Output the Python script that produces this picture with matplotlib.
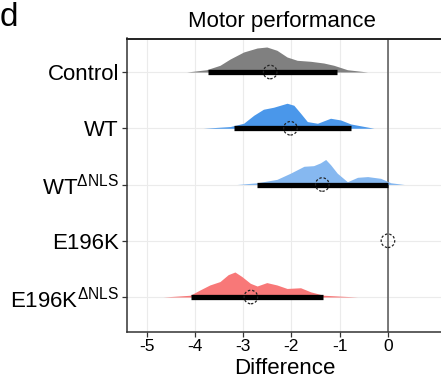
import matplotlib
matplotlib.use("Agg")
import matplotlib.pyplot as plt
import numpy as np

plt.rcParams['font.family'] = ['Liberation Sans', 'DejaVu Sans']
plt.rcParams['mathtext.fontset'] = 'custom'
plt.rcParams['mathtext.rm'] = 'Liberation Sans'

# ---- data ----
categories = ["Control", "WT", r"WT$^{\mathrm{ΔNLS}}$", "E196K", r"E196K$^{\mathrm{ΔNLS}}$"]
point_est = [-2.44, -2.02, -1.36, 0.0, -2.84]
int_low = [-3.73, -3.18, -2.71, None, -4.08]
int_high = [-1.05, -0.77, 0.0, None, -1.34]

dens_x = [
    [-4.17, -3.76, -3.48, -3.27, -2.99, -2.71, -2.51, -2.30, -2.09, -1.88, -1.60, -1.33, -1.12, -0.84, -0.42],
    [-3.83, -3.27, -2.99, -2.78, -2.58, -2.37, -2.09, -1.95, -1.81, -1.67, -1.46, -1.19, -0.98, -0.77, -0.29],
    [-3.13, -2.71, -2.30, -2.02, -1.74, -1.54, -1.40, -1.29, -1.19, -1.05, -0.84, -0.63, -0.42, -0.15, 0.06, 0.34],
    None,
    [-4.66, -4.10, -3.90, -3.69, -3.48, -3.31, -3.17, -3.03, -2.85, -2.71, -2.51, -2.30, -2.09, -1.81, -1.60, -1.33, -0.63],
]
dens_h = [
    [0, 2.3, 6.7, 13, 20, 24, 25, 21.7, 15, 11.7, 10.7, 9, 6.7, 2.3, 0],
    [0, 1.7, 5, 13, 19, 21, 25, 23, 15, 6.7, 5, 10, 8.3, 4.3, 0],
    [0, 1.7, 5, 11, 17.7, 18.3, 21, 24.3, 19.3, 11, 2.7, 7, 7.7, 6, 1.7, 0],
    None,
    [0, 1.7, 6.7, 11.7, 15, 21.7, 24.3, 20, 13.3, 10.7, 14, 11.7, 8.3, 9, 5, 1.7, 0],
]
colors = ["#808080", "#4a97ea", "#86b8f0", "#ffffff", "#f87878"]
xticks = [-5, -4, -3, -2, -1, 0]

# ---- figure ----
fig = plt.figure(figsize=(4.41, 3.83), dpi=100)
ax = fig.add_axes([127.3/441, 51/383, (442-127.3)/441, (332-38.5)/383])

n = len(categories)
ypos = [n - i for i in range(n)]
slab_scale = 0.445

for i in range(n):
    y = ypos[i]
    if dens_x[i] is not None:
        h = np.array(dens_h[i], dtype=float)
        h = h / h.max() * slab_scale
        ax.fill_between(dens_x[i], y, y + h, color=colors[i], lw=0, zorder=3)
    if int_low[i] is not None:
        ax.plot([int_low[i], int_high[i]], [y, y], color="black", lw=3.8,
                solid_capstyle="butt", zorder=4)
    ax.scatter([point_est[i]], [y], s=95, facecolors="none", edgecolors="#222222",
               linewidths=0.9, linestyle=(0, (2, 1.5)), zorder=5)

ax.axvline(0, color="#555555", lw=1.1, zorder=2)

ax.set_xlim(-5.40, 1.12)
ax.set_ylim(0.378, 5.596)
ax.set_xticks(xticks)
ax.set_xticklabels([str(t) for t in xticks])
ax.set_yticks(ypos)
ax.set_yticklabels(categories)

ax.grid(True, color="#ebebeb", lw=0.8, zorder=0)
ax.set_axisbelow(True)

ax.spines["right"].set_visible(False)
ax.spines["top"].set_color("#222222")
ax.spines["top"].set_linewidth(1.4)
for s in ["left", "bottom"]:
    ax.spines[s].set_color("#333333")
    ax.spines[s].set_linewidth(1.1)

ax.tick_params(axis="y", labelsize=16, length=3.5, width=0.9, color="#333333", pad=2.5)
ax.tick_params(axis="x", labelsize=12.5, length=3.5, width=0.9, color="#333333", pad=1.5)

fig.text(282/441, 1 - 22/383, "Motor performance", ha="center", va="center", fontsize=16)
fig.text(285/441, 1 - 369/383, "Difference", ha="center", va="center", fontsize=16)
fig.text(0.0, 1 - 18/383, "d", ha="left", va="center", fontsize=24)

fig.savefig("out.png", dpi=100)
